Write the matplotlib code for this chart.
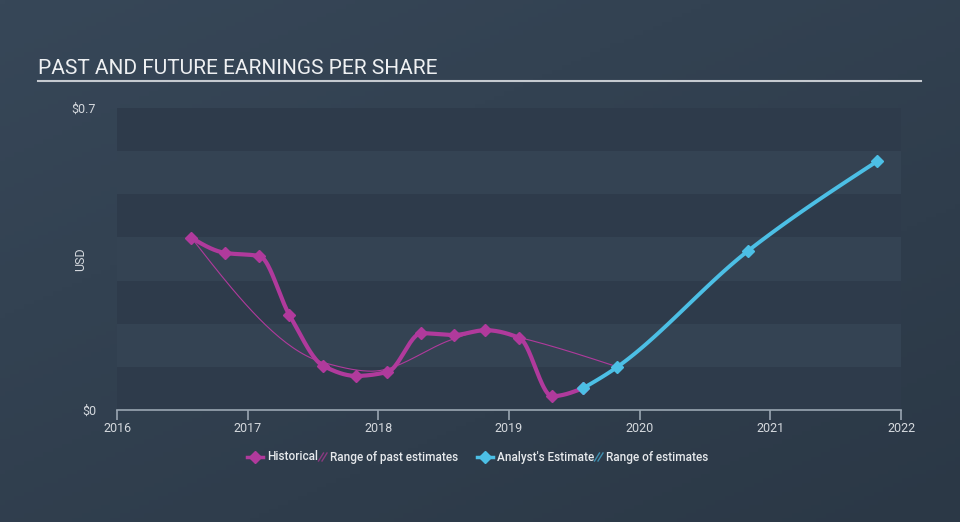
import numpy as np
import matplotlib
matplotlib.use("Agg")
import matplotlib.pyplot as plt
from matplotlib.lines import Line2D

# ---------------- data ----------------
hist_x = [2016.57, 2016.83, 2017.09, 2017.32, 2017.58, 2017.83, 2018.07,
          2018.33, 2018.58, 2018.82, 2019.08, 2019.33, 2019.57]
hist_y = [0.399, 0.364, 0.357, 0.220, 0.102, 0.079, 0.088,
          0.178, 0.174, 0.185, 0.167, 0.032, 0.051]

past_est_x = [2016.57, 2017.58, 2017.95, 2018.58, 2018.82, 2019.08, 2019.83]
past_est_y = [0.399, 0.110, 0.090, 0.165, 0.185, 0.168, 0.100]

fut_x = [2019.57, 2019.83, 2020.83, 2021.82]
fut_y = [0.051, 0.100, 0.369, 0.577]

year_ticks = [2016, 2017, 2018, 2019, 2020, 2021, 2022]
y_ticks = [0, 0.7]
y_tick_labels = ["$0", "$0.7"]

title = "PAST AND FUTURE EARNINGS PER SHARE"

# ---------------- helpers ----------------
def monotone_x(xs, ys, n=40):
    xs = np.asarray(xs, float); ys = np.asarray(ys, float)
    h = np.diff(xs); d = np.diff(ys) / h
    m = np.zeros_like(ys)
    for i in range(1, len(xs) - 1):
        if d[i - 1] * d[i] <= 0:
            m[i] = 0
        else:
            w1 = 2 * h[i] + h[i - 1]; w2 = h[i] + 2 * h[i - 1]
            m[i] = (w1 + w2) / (w1 / d[i - 1] + w2 / d[i])
    if len(xs) > 2:
        m[0] = (3 * d[0] - m[1]) / 2
        m[-1] = (3 * d[-1] - m[-2]) / 2
    else:
        m[0] = m[-1] = d[0]
    X, Y = [], []
    for i in range(len(xs) - 1):
        t = np.linspace(0, 1, n)
        hh = h[i]
        h00 = 2 * t**3 - 3 * t**2 + 1
        h10 = t**3 - 2 * t**2 + t
        h01 = -2 * t**3 + 3 * t**2
        h11 = t**3 - t**2
        X.extend(xs[i] + t * hh)
        Y.extend(h00 * ys[i] + h10 * hh * m[i] + h01 * ys[i + 1] + h11 * hh * m[i + 1])
    return np.array(X), np.array(Y)

# ---------------- figure ----------------
plt.rcParams['font.family'] = ['Roboto', 'DejaVu Sans']
fig = plt.figure(figsize=(9.6, 5.22), dpi=100)

# background gradient
bg = fig.add_axes([0, 0, 1, 1], zorder=-10)
gx = np.linspace(0, 1, 200)
gy = np.linspace(0, 1, 120)
GX, GY = np.meshgrid(gx, gy)
c1 = np.array([0x37, 0x47, 0x58]) / 255
c2 = np.array([0x2b, 0x38, 0x46]) / 255
t = np.clip(0.55 * GY + 0.45 * GX, 0, 1)[..., None]
img = c1 * (1 - t) + c2 * t
bg.imshow(img, aspect='auto', extent=[0, 1, 0, 1], origin='upper')
bg.axis('off')

ax = fig.add_axes([117 / 960, 1 - 410 / 522, (901 - 117) / 960, (410 - 108) / 522])
ax.set_facecolor('none')
ax.set_xlim(2016, 2022)
ax.set_ylim(0, 0.7)

dark = '#2e3b4b'
light = '#344353'
for i in range(7):
    col = light if i % 2 == 1 else dark
    ax.axhspan(i * 0.1, (i + 1) * 0.1, color=col, lw=0, zorder=0)
for s in ax.spines.values():
    s.set_visible(False)
ax.spines['bottom'].set_visible(True)
ax.spines['bottom'].set_color('#9aa6b2')
ax.spines['bottom'].set_linewidth(1.2)

ax.set_xticks(year_ticks)
ax.set_xticklabels([str(y) for y in year_ticks])
ax.tick_params(axis='x', colors='#9aa6b2', length=7, width=1.2, labelcolor='#d5d9de',
               labelsize=9, pad=2)
ax.set_yticks(y_ticks)
ax.set_yticklabels(y_tick_labels)
ax.tick_params(axis='y', length=0, labelcolor='#d5d9de', labelsize=9, pad=15)
ax.set_ylabel("USD", color='#d5d9de', fontsize=9)
ax.yaxis.set_label_coords(-30 / 784, 0.5)

mag = '#b03a9c'
cyan = '#4cbfe5'

px, py = monotone_x(past_est_x, past_est_y)
ax.plot(px, py, color=mag, lw=0.8, zorder=2)

hx, hy = monotone_x(hist_x, hist_y)
ax.plot(hx, hy, color=mag, lw=3, zorder=3, solid_capstyle='round')
ax.plot(hist_x, hist_y, ls='none', marker='D', ms=6, color=mag, zorder=4)

fx, fy = monotone_x(fut_x, fut_y)
ax.plot(fx, fy, color=cyan, lw=2.8, zorder=5, solid_capstyle='round')
ax.plot(fut_x, fut_y, ls='none', marker='D', ms=6, color=cyan, zorder=6)

# title
fig.text(38 / 960, 1 - 68 / 522, title, color='#eef0f2', fontsize=15, va='center', ha='left')
fig.add_artist(Line2D([38 / 960, 921 / 960], [1 - 81 / 522, 1 - 81 / 522],
                      color='#c5cad0', lw=1.5))

# legend
ly = 1 - 457 / 522
def leg_marker(xp, col):
    fig.add_artist(Line2D([(xp - 8) / 960, (xp + 8) / 960], [ly, ly], color=col, lw=2.5))
    fig.add_artist(Line2D([xp / 960], [ly], marker='D', ms=6, color=col, ls='none'))
def leg_hatch(xp, col):
    for dx in (-2, 1.5):
        fig.add_artist(Line2D([(xp + dx - 2.5) / 960, (xp + dx + 2.5) / 960],
                              [ly - 4 / 522, ly + 4 / 522], color=col, lw=1))

txt_kw = dict(color='#e6e9ec', fontsize=8.5, va='center', ha='left', fontweight='medium')
leg_marker(255, mag)
fig.text(267 / 960, ly, "Historical", **txt_kw)
leg_hatch(323, '#8a3a80')
fig.text(330 / 960, ly, "Range of past estimates", **txt_kw)
leg_marker(485, cyan)
fig.text(497 / 960, ly, "Analyst's Estimate", **txt_kw)
leg_hatch(599, '#3f8fb0')
fig.text(606 / 960, ly, "Range of estimates", **txt_kw)

fig.savefig("out.png", dpi=100)
